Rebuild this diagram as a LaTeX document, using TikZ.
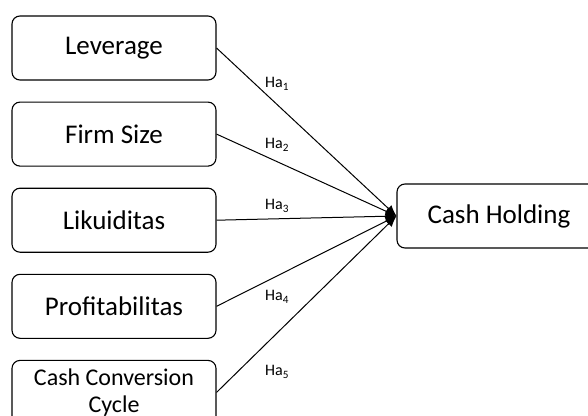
\documentclass[tikz,border=0pt]{standalone}
\usepackage{fontspec}
\setmainfont{Carlito}
\usetikzlibrary{arrows.meta,positioning}
\tikzset{
  varbox/.style={draw, rounded corners=8pt, line width=1.1pt, minimum width=204pt,
    minimum height=64pt, align=center, font=\fontsize{27}{27}\selectfont},
  link/.style={line width=1pt, -{Latex[length=11pt,width=9pt]}},
  hyp/.style={anchor=west, inner sep=0pt, font=\fontsize{16}{18}\selectfont},
}

\begin{document}
\begin{tikzpicture}[x=1pt,y=-1pt]
  \clip (0,0) rectangle (588,415);
  % independent variables
  \node[varbox] (lev) at (114,48) {Leverage};
  \node[varbox, below=21pt of lev] (size) {Firm Size};
  \node[varbox, below=21pt of size] (liq) {Likuiditas};
  \node[varbox, below=21pt of liq] (prof) {Profitabilitas};
  \node[varbox, below=21pt of prof, font=\fontsize{24}{27}\selectfont] (ccc) {Cash Conversion\\Cycle};
  % dependent variable
  \node[varbox] (cash) at (499,216) {Cash Holding};
  % hypotheses
  \draw[link] (lev.east) -- (cash.west);
  \draw[link] (size.east) -- (cash.west);
  \draw[link] (liq.east) -- (cash.west);
  \draw[link] (prof.east) -- (cash.west);
  \draw[link] (ccc.east) -- (cash.west);
  \node[hyp] (h1) at (265,84) {Ha\textsubscript{1}};
  \node[hyp] (h2) at (265,145) {Ha\textsubscript{2}};
  \node[hyp] (h3) at (265,206) {Ha\textsubscript{3}};
  \node[hyp] (h4) at (265,297) {Ha\textsubscript{4}};
  \node[hyp] (h5) at (265,372) {Ha\textsubscript{5}};
\end{tikzpicture}
\end{document}
